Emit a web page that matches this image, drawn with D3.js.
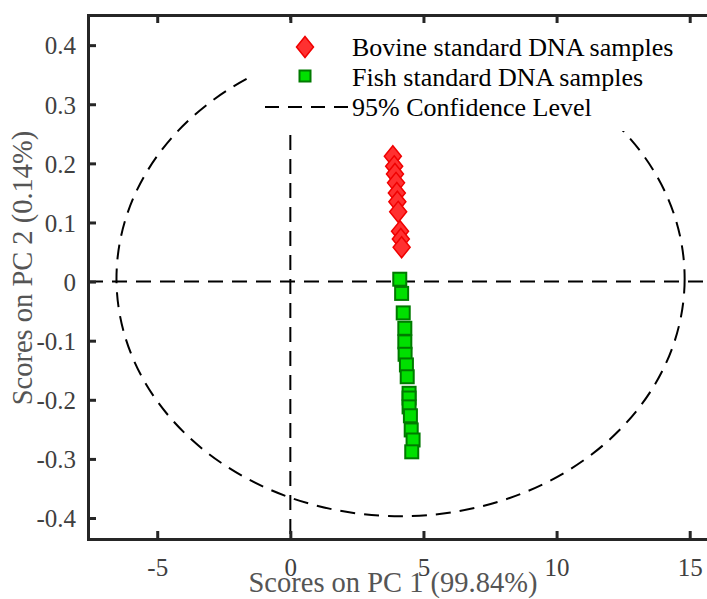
<!DOCTYPE html>
<html>
<head>
<meta charset="utf-8">
<script src="https://cdn.jsdelivr.net/npm/d3@7"></script>
<style>
  body { margin: 0; background: #fff; }
  svg { display: block; }
</style>
</head>
<body>
<svg id="chart"></svg>
<script>
// PCA scores
const bovineX = [3.85, 3.90, 3.93, 3.97, 4.00, 4.02, 4.05, 4.12, 4.15, 4.18];
const bovineY = [0.212, 0.195, 0.182, 0.167, 0.150, 0.135, 0.118, 0.085, 0.072, 0.058];

const fishX = [4.11, 4.18, 4.24, 4.30, 4.30, 4.31, 4.36, 4.39, 4.46, 4.46, 4.46, 4.51, 4.54, 4.61, 4.56];
const fishY = [0.004, -0.020, -0.053, -0.079, -0.102, -0.123, -0.141, -0.161, -0.189, -0.197, -0.212, -0.227, -0.251, -0.268, -0.288];

const xTicks = [-5, 0, 5, 10, 15];
const yTicks = [-0.4, -0.3, -0.2, -0.1, 0, 0.1, 0.2, 0.3, 0.4];

const ellipseCenter = [4.14, 0.005];
const ellipseRadii = [10.67, 0.402];

const legendLabels = ["Bovine standard DNA samples", "Fish standard DNA samples", "95% Confidence Level"];

const width = 707, height = 599;
const margin = { top: 15, right: -4, bottom: 60, left: 88 };

const svg = d3.select("#chart").attr("width", width).attr("height", height);

const x = d3.scaleLinear().domain([-7.6, 15.8]).range([margin.left, width - margin.right]);
const y = d3.scaleLinear().domain([-0.4355, 0.451]).range([height - margin.bottom, margin.top]);

const font = "'Liberation Serif', 'Times New Roman', serif";
const axisColor = "#262626";
const dash = "15,9";
// matlab style labels use a plain hyphen for the minus sign
const fmt = f => d => d === 0 ? "0" : d3.format(f)(d).replace("\u2212", "-");

// confidence ellipse + zero lines
svg.append("ellipse")
    .attr("cx", x(ellipseCenter[0]))
    .attr("cy", y(ellipseCenter[1]))
    .attr("rx", x(ellipseCenter[0] + ellipseRadii[0]) - x(ellipseCenter[0]))
    .attr("ry", y(ellipseCenter[1]) - y(ellipseCenter[1] + ellipseRadii[1]))
    .attr("fill", "none")
    .attr("stroke", "#000")
    .attr("stroke-width", 2)
    .attr("stroke-dasharray", dash);

svg.append("line")
    .attr("x1", x(-7.6)).attr("x2", x(15.8))
    .attr("y1", y(0)).attr("y2", y(0))
    .attr("stroke", "#000").attr("stroke-width", 2)
    .attr("stroke-dasharray", dash);

svg.append("line")
    .attr("x1", x(0)).attr("x2", x(0))
    .attr("y1", y(0.451)).attr("y2", y(-0.4355))
    .attr("stroke", "#000").attr("stroke-width", 2)
    .attr("stroke-dasharray", dash);

// data points
const bovine = bovineX.map((v, i) => ({ x: v, y: bovineY[i] }));
const fish = fishX.map((v, i) => ({ x: v, y: fishY[i] }));

const diamond = (w, h) => `M0,${-h / 2}L${w / 2},0L0,${h / 2}L${-w / 2},0Z`;

svg.append("g")
    .selectAll("rect")
    .data(fish)
    .join("rect")
    .attr("x", d => x(d.x) - 6.5)
    .attr("y", d => y(d.y) - 6.5)
    .attr("width", 13)
    .attr("height", 13)
    .attr("fill", "#00e000")
    .attr("stroke", "#007a00")
    .attr("stroke-width", 2);

svg.append("g")
    .selectAll("path")
    .data(bovine)
    .join("path")
    .attr("transform", d => `translate(${x(d.x)},${y(d.y)})`)
    .attr("d", diamond(17, 21))
    .attr("fill", "#ff3030")
    .attr("stroke", "#f00000")
    .attr("stroke-width", 1.5);

// legend (opaque box hides the ellipse behind it)
const legend = svg.append("g").attr("transform", "translate(250,20)");
legend.append("rect")
    .attr("width", 460).attr("height", 111)
    .attr("fill", "#fff");

legend.append("path")
    .attr("transform", "translate(55,27)")
    .attr("d", diamond(17, 21))
    .attr("fill", "#ff3030").attr("stroke", "#f00000").attr("stroke-width", 1.5);

legend.append("rect")
    .attr("x", 49.5).attr("y", 50.5).attr("width", 11).attr("height", 11)
    .attr("fill", "#00e000").attr("stroke", "#007a00").attr("stroke-width", 2);

legend.append("line")
    .attr("x1", 15).attr("x2", 98).attr("y1", 87).attr("y2", 87)
    .attr("stroke", "#000").attr("stroke-width", 2)
    .attr("stroke-dasharray", "14,9");

legend.selectAll("text.lbl")
    .data(legendLabels)
    .join("text")
    .attr("class", "lbl")
    .attr("x", 102)
    .attr("y", (d, i) => 36 + i * 30)
    .attr("font-family", font)
    .attr("font-size", 26)
    .attr("fill", "#000")
    .text(d => d);

// axes box
const xAxisBottom = svg.append("g")
    .attr("transform", `translate(0,${y(-0.4355)})`)
    .call(d3.axisBottom(x).tickValues(xTicks).tickSize(-8).tickPadding(14).tickFormat(fmt("d")));
const xAxisTop = svg.append("g")
    .attr("transform", `translate(0,${y(0.451)})`)
    .call(d3.axisTop(x).tickValues(xTicks).tickSize(-8).tickFormat(""));
const yAxisLeft = svg.append("g")
    .attr("transform", `translate(${x(-7.6)},0)`)
    .call(d3.axisLeft(y).tickValues(yTicks).tickSize(-8).tickPadding(12).tickFormat(fmt(".1f")));

[xAxisBottom, xAxisTop, yAxisLeft].forEach(g => {
    g.select(".domain").attr("stroke", axisColor).attr("stroke-width", 3);
    g.selectAll(".tick line").attr("stroke", axisColor).attr("stroke-width", 3);
    g.selectAll(".tick text")
        .attr("font-family", font)
        .attr("font-size", 25)
        .attr("fill", "#404040");
});
xAxisBottom.selectAll(".tick text").attr("dy", "0.9em");
yAxisLeft.selectAll(".tick text").attr("dy", "0.35em");

// axis titles
svg.append("text")
    .attr("x", 393)
    .attr("y", 592)
    .attr("text-anchor", "middle")
    .attr("font-family", font)
    .attr("font-size", 28.5)
    .attr("fill", "#555")
    .text("Scores on PC 1 (99.84%)");

svg.append("text")
    .attr("transform", "translate(32,268) rotate(-90)")
    .attr("text-anchor", "middle")
    .attr("font-family", font)
    .attr("font-size", 28.5)
    .attr("fill", "#555")
    .text("Scores on PC 2 (0.14%)");
</script>
</body>
</html>
